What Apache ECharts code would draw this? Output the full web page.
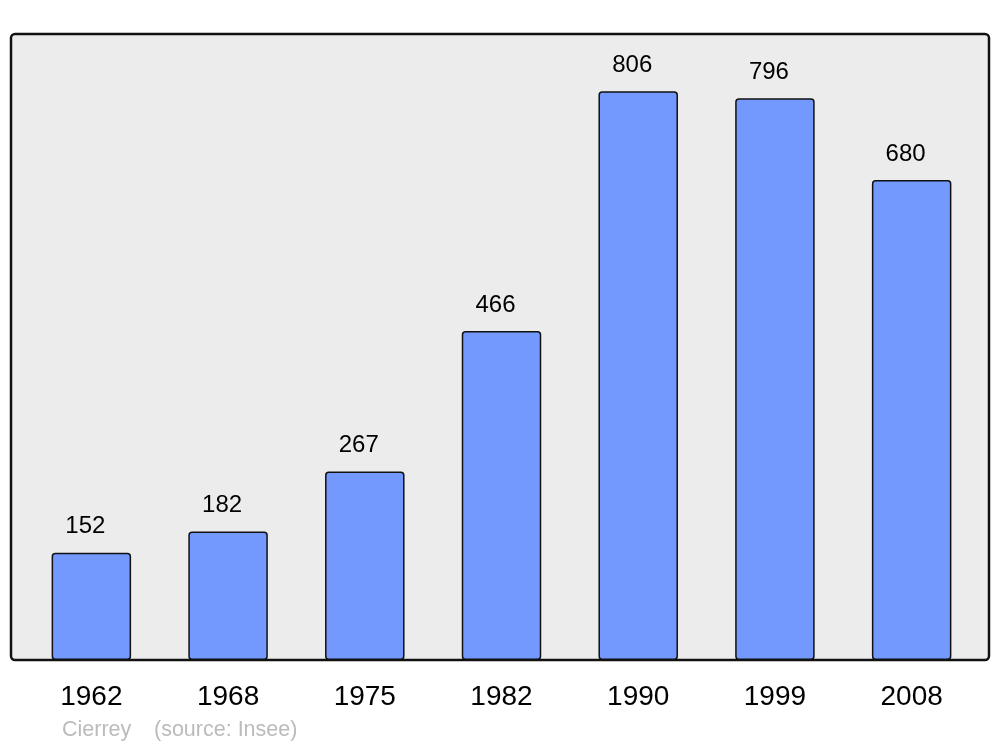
<!DOCTYPE html>
<html><head><meta charset="utf-8">
<script src="https://cdn.jsdelivr.net/npm/echarts@6/dist/echarts.min.js"></script>
<style>html,body{margin:0;padding:0;background:#fff}#c{width:1000px;height:747px}</style>
</head><body><div id="c"></div>
<script>
const years = ['1962','1968','1975','1982','1990','1999','2008'];
const population = [152,182,267,466,806,796,680];
const placeName = 'Cierrey';
const sourceText = '(source: Insee)';

const chart = echarts.init(document.getElementById('c'), null, {renderer:'canvas'});
chart.setOption({
  animation:false,
  backgroundColor:'#ffffff',
  textStyle:{fontFamily:'Liberation Sans, Arial, sans-serif'},
  grid:{left:23,right:20,top:34,bottom:87,containLabel:false},
  xAxis:{type:'category',data:years,
    axisLine:{show:false},axisTick:{show:false},
    axisLabel:{color:'#000',fontSize:28,margin:23,fontFamily:'Liberation Sans'}},
  yAxis:{type:'value',min:0,max:887,show:false,splitLine:{show:false}},
  graphic:[
    {type:'rect',z:0,shape:{x:11,y:34,width:978,height:626,r:4},
     style:{fill:'#ececec',stroke:'#111',lineWidth:2.5}},
    {type:'text',left:62,top:719,style:{text:placeName,fill:'#bbbbbb',font:'21.5px Liberation Sans'}},
    {type:'text',left:154,top:719,style:{text:sourceText,fill:'#bbbbbb',font:'21.5px Liberation Sans'}}
  ],
  series:[{type:'bar',data:population,barWidth:79.5,
    itemStyle:{color:'#7399ff',borderColor:'#111',borderWidth:1.5,borderRadius:3},
    label:{show:true,position:'top',distance:14,offset:[-6,0],color:'#000',fontSize:24,fontFamily:'Liberation Sans'}
  }]
});
</script></body></html>
